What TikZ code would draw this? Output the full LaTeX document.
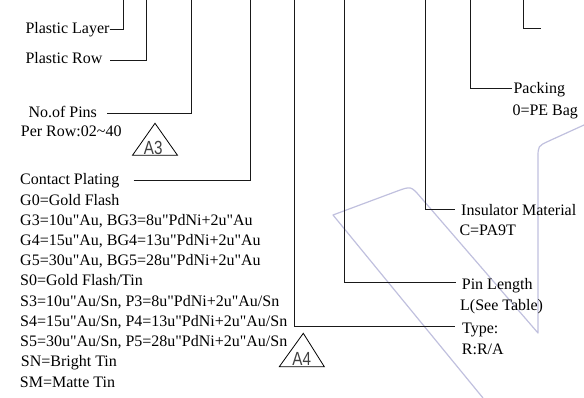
\documentclass[tikz,border=0pt]{standalone}
\usepackage{fontspec}
\newfontfamily\lblfont{Liberation Serif}
\newfontfamily\markfont{Liberation Sans}
\usepackage{graphicx}
\usepackage{xcolor}
\usepackage{tikz}
\usetikzlibrary{calc,positioning}
\definecolor{wmark}{RGB}{192,192,222}

\begin{document}
\begin{tikzpicture}[x=1pt,y=-1pt,
  lbl/.style={inner sep=0pt,anchor=base west,font=\lblfont\fontsize{16}{20}\selectfont},
  lead/.style={black!90,line width=0.85pt},
  tri/.style={black,line width=0.8pt,line join=miter},
  tag/.style={inner sep=0pt,anchor=base,text=black!75,font=\markfont\fontsize{19}{19}\selectfont},
  wm/.style={wmark,line width=1.2pt,line join=round}]
\useasboundingbox (0,0) rectangle (584,398);
% free ends of the leads at the top edge
\coordinate (layerTop) at (123.3,0); \coordinate (rowTop) at (146,0);
\coordinate (pinsTop) at (191.3,0); \coordinate (platTop) at (250.7,0);
\coordinate (typeTop) at (294.5,0); \coordinate (plenTop) at (344.3,0);
\coordinate (insulTop) at (425,0); \coordinate (packTop) at (470.7,0);
\coordinate (cornerTop) at (523.8,0); \coordinate (cornerEnd) at (541,28.7);
% watermark outline
\draw[wm] (483,398) -- (333,215) -- (396.9,191.2) .. controls (411,186) .. (420.8,197.4) -- (538,333) -- (538,158) .. controls (538,146) .. (548.9,141) -- (584,125);
% left labels
\node[lbl] (layer) at (25.3,33.3) {Plastic Layer};
\node[lbl] (row) at (25.3,64) {Plastic Row};
\node[lbl] (pins) at (28.3,118) {No.of Pins};
\node[lbl] (pinsB) at (20.7,136.3) {Per Row:02\char"7E 40};
\node[lbl] (plating) at (20,185) {Contact Plating};
\node[lbl] (g0) at (20,205.2) {G0=Gold Flash};
\node[lbl] (g3) at (20,225.4) {G3=10u"Au, BG3=8u"PdNi+2u"Au};
\node[lbl] (g4) at (20,245.6) {G4=15u"Au, BG4=13u"PdNi+2u"Au};
\node[lbl] (g5) at (20,265.8) {G5=30u"Au, BG5=28u"PdNi+2u"Au};
\node[lbl] (s0) at (20,286) {S0=Gold Flash/Tin};
\node[lbl] (s3) at (20,306.2) {S3=10u"Au/Sn, P3=8u"PdNi+2u"Au/Sn};
\node[lbl] (s4) at (20,326.4) {S4=15u"Au/Sn, P4=13u"PdNi+2u"Au/Sn};
\node[lbl] (s5) at (20,346.6) {S5=30u"Au/Sn, P5=28u"PdNi+2u"Au/Sn};
\node[lbl] (sn) at (20.7,366.8) {SN=Bright Tin};
\node[lbl] (sm) at (19.7,387) {SM=Matte Tin};
% right labels
\node[lbl] (pack) at (513.3,93.3) {Packing};
\node[lbl] (packB) at (512.3,115.6) {0=PE Bag};
\node[lbl] (insul) at (461,215.5) {Insulator Material};
\node[lbl] (insulB) at (459.3,236) {C=PA9T};
\node[lbl] (plen) at (461.7,289.5) {Pin Length};
\node[lbl] (plenB) at (460,310) {L(See Table)};
\node[lbl] (rtype) at (462,334) {Type:};
\node[lbl] (rtypeB) at (461.7,354.3) {R:R/A};
% leads
\draw[lead] ([yshift=4pt]layer.base east) -| (layerTop);
\draw[lead] ([xshift=7.8pt,yshift=4pt]row.base east) -| (rowTop);
\draw[lead] ([xshift=10.3pt,yshift=4.3pt]pins.base east) -| (pinsTop);
\draw[lead] ([xshift=14pt,yshift=4.3pt]plating.base east) -| (platTop);
\draw[lead] (typeTop) |- ([xshift=-7pt,yshift=7.3pt]rtype.base west);
\draw[lead] (plenTop) |- ([xshift=-5.7pt,yshift=7.5pt]plen.base west);
\draw[lead] (insulTop) |- ([xshift=-6pt,yshift=6.5pt]insul.base west);
\draw[lead] (packTop) |- ([xshift=-1pt,yshift=5pt]pack.base west);
\draw[lead] (cornerTop) |- (cornerEnd);
% revision marks
\draw[tri] (155,123.3) -- (177.5,155.3) -- (132.5,155.3) -- cycle;
\node[tag] (revA3) at (153.2,154.3) {\scalebox{0.8}[1]{A3}};
\draw[tri] (303.3,333.3) -- (324.3,366.7) -- (279.3,366.7) -- cycle;
\node[tag] (revA4) at (301.7,365.8) {\scalebox{0.8}[1]{A4}};
\end{tikzpicture}
\end{document}
